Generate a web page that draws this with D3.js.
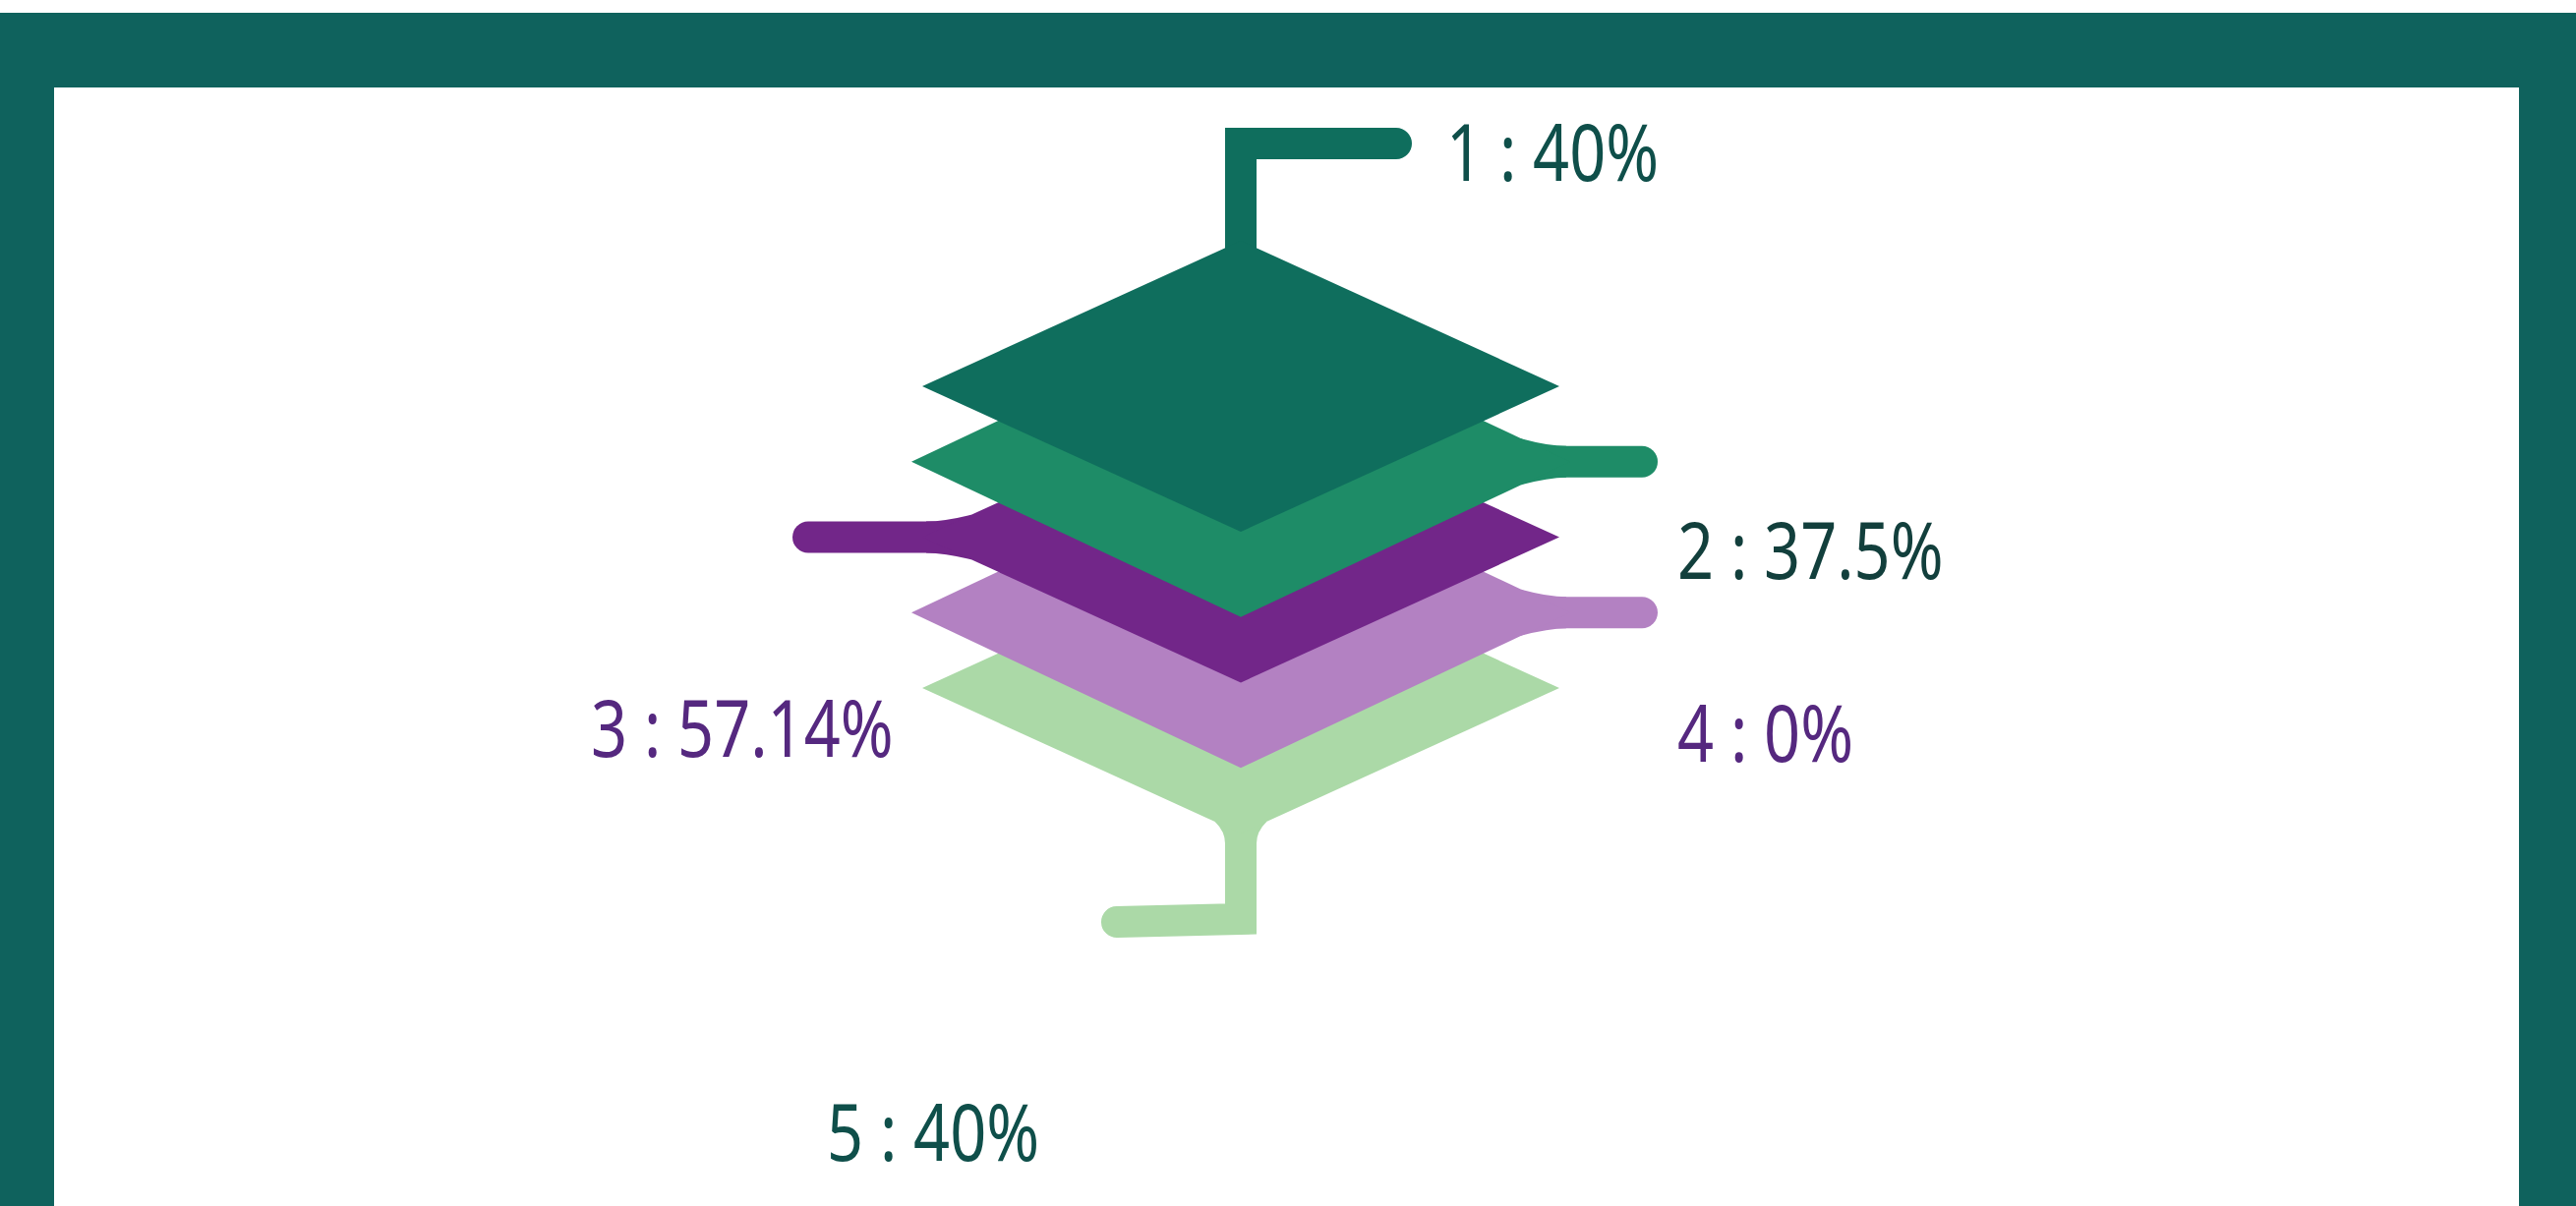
<!DOCTYPE html>
<html>
<head>
<meta charset="utf-8">
<script src="https://cdn.jsdelivr.net/npm/d3@7"></script>
<style>
  body { margin: 0; background: #fff; }
  svg { display: block; }
</style>
</head>
<body>
<svg id="chart"></svg>
<script>
const categories = ['1', '2', '3', '4', '5']
const values = [40, 37.5, 57.14, 0, 40]

const width = 2620
const height = 1227

const layerColors = ['#0f6e5d', '#1e8c67', '#722689', '#b381c2', '#abd9a7']
const textColors = ['#0f4f4a', '#123f3c', '#55287f', '#55287f', '#0f4f4a']

// where each connector goes and how the label sits against its end
const connectors = [
  { dir: 'up', stem: 99, bar: 158, dx: 51, dy: 38 },
  { dir: 'right', bar: 73, dx: 36, dy: 119 },
  { dir: 'left', bar: 116, dx: -221, dy: 223 },
  { dir: 'right', bar: 73, dx: 36, dy: 152 },
  { dir: 'down', stem: 87, bar: 126, dx: -295, dy: 243 },
]
const barWidth = 32

const svg = d3.select('#chart')
  .attr('width', width)
  .attr('height', height)

// frame
svg.append('rect')
  .attr('x', 0).attr('y', 13)
  .attr('width', width).attr('height', height - 13)
  .attr('fill', '#0f625d')
svg.append('rect')
  .attr('x', 55).attr('y', 89)
  .attr('width', 2507).attr('height', height - 89)
  .attr('fill', '#fff')

const cx = 1262
const y = d3.scalePoint()
  .domain(categories)
  .range([393, 700])

// odd layers a bit smaller than even ones
const halfW = i => (i % 2 === 0 ? 324 : 335)
const halfH = i => (i % 2 === 0 ? 148 : 158)

const layers = categories.map((c, i) => ({ cat: c, value: values[i], i }))

const line = d3.line()

// connector polyline, starting a little inside the diamond so the start is hidden
function connectorPoints(d) {
  const cy = y(d.cat)
  const c = connectors[d.i]
  if (c.dir === 'up') {
    const top = cy - halfH(d.i)
    return [[cx, top + 40], [cx, top - c.stem], [cx + c.bar, top - c.stem]]
  }
  if (c.dir === 'down') {
    const bot = cy + halfH(d.i)
    return [[cx, bot - 40], [cx, bot + c.stem], [cx - c.bar, bot + c.stem + 3]]
  }
  if (c.dir === 'right') {
    const vx = cx + halfW(d.i)
    return [[vx - 70, cy], [vx + c.bar, cy]]
  }
  const vx = cx - halfW(d.i)
  return [[vx + 70, cy], [vx - c.bar, cy]]
}

// small curved flare where the bar leaves the diamond
function flare(d) {
  const cy = y(d.cat)
  const c = connectors[d.i]
  const w = halfW(d.i)
  const h = halfH(d.i)
  const b = barWidth / 2
  if (c.dir === 'right' || c.dir === 'left') {
    const s = c.dir === 'right' ? 1 : -1
    const vx = cx + s * w
    const back = 50
    const t = back * h / w
    return `M${vx - s * back},${cy - t} Q${vx - s * 22},${cy - b} ${vx - s * 4},${cy - b}` +
      ` L${vx - s * 4},${cy + b} Q${vx - s * 22},${cy + b} ${vx - s * back},${cy + t} Z`
  }
  const s = c.dir === 'down' ? 1 : -1
  const vy = cy + s * h
  const back = 12
  const t = back * w / h
  return `M${cx - t},${vy - s * back} Q${cx - b},${vy - s * 2} ${cx - b},${vy + s * 10}` +
    ` L${cx + b},${vy + s * 10} Q${cx + b},${vy - s * 2} ${cx + t},${vy - s * back} Z`
}

// draw bottom layer first so the top one ends up on top
const g = svg.selectAll('g.layer')
  .data(layers.slice().reverse())
  .enter().append('g')
  .attr('class', 'layer')

g.append('path')
  .attr('d', d => line(connectorPoints(d)))
  .attr('fill', 'none')
  .attr('stroke', d => layerColors[d.i])
  .attr('stroke-width', barWidth)
  .attr('stroke-linecap', 'round')
  .attr('stroke-linejoin', 'miter')

g.filter(d => connectors[d.i].dir !== 'up')
  .append('path')
  .attr('d', flare)
  .attr('fill', d => layerColors[d.i])

g.append('path')
  .attr('d', d => {
    const cy = y(d.cat)
    const w = halfW(d.i)
    const h = halfH(d.i)
    return line([[cx, cy - h], [cx + w, cy], [cx, cy + h], [cx - w, cy]]) + 'Z'
  })
  .attr('fill', d => layerColors[d.i])

// labels
svg.selectAll('text.label')
  .data(layers)
  .enter().append('text')
  .attr('class', 'label')
  .attr('transform', d => {
    const pts = connectorPoints(d)
    const end = pts[pts.length - 1]
    const c = connectors[d.i]
    return `translate(${end[0] + c.dx}, ${end[1] + c.dy}) scale(0.81, 1)`
  })
  .attr('font-family', 'Noto Sans, Open Sans, sans-serif')
  .attr('font-size', 80)
  .attr('fill', d => textColors[d.i])
  .text(d => `${d.cat} : ${d.value}%`)
</script>
</body>
</html>
